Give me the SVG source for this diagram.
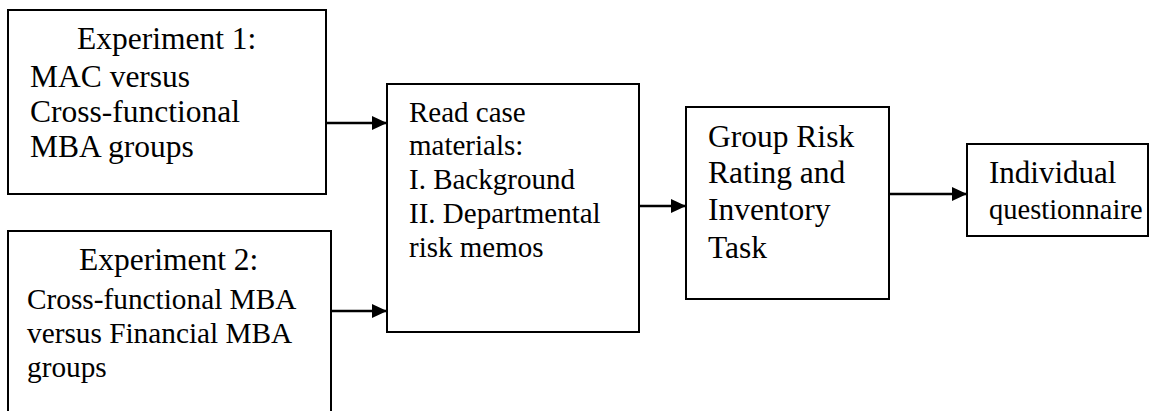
<svg xmlns="http://www.w3.org/2000/svg" width="1160" height="411" viewBox="0 0 1160 411">
<style>
.box{fill:#fff;stroke:#000;stroke-width:2}
.t{fill:#000}
.c{stroke:#000;stroke-width:2.5;fill:none}
</style>
<defs>
<marker id="ah" markerWidth="15" markerHeight="14" refX="15" refY="7" orient="auto" markerUnits="userSpaceOnUse">
<path d="M0,0 L15,7 L0,14 Z" fill="#000"/>
</marker>
</defs>
<rect width="1160" height="411" fill="#fff"/>
<g font-family="'Liberation Serif', 'Times New Roman', 'DejaVu Serif', serif">
<g id="exp1">
<rect class="box" x="8" y="10" width="318" height="184"/>
<text class="t" font-size="31.5"><tspan x="77" y="49">Experiment 1:</tspan><tspan x="30" y="87">MAC versus</tspan><tspan x="30" y="122">Cross-functional</tspan><tspan x="30" y="157">MBA groups</tspan></text>
</g>
<g id="exp2">
<rect class="box" x="8" y="231" width="323" height="190"/>
<text class="t" font-size="31.5"><tspan x="79" y="270">Experiment 2:</tspan></text>
<text class="t" font-size="29.3"><tspan x="27" y="309">Cross-functional MBA</tspan><tspan x="27" y="343">versus Financial MBA</tspan><tspan x="27" y="377">groups</tspan></text>
</g>
<g id="read">
<rect class="box" x="387" y="84" width="252" height="248"/>
<text class="t" font-size="29"><tspan x="409" y="122">Read case</tspan><tspan x="409" y="155">materials:</tspan><tspan x="409" y="189">I. Background</tspan><tspan x="409" y="223">II. Departmental</tspan><tspan x="409" y="257">risk memos</tspan></text>
</g>
<g id="group">
<rect class="box" x="686" y="107" width="203" height="192"/>
<text class="t" font-size="31.5"><tspan x="708" y="147">Group Risk</tspan><tspan x="708" y="183">Rating and</tspan><tspan x="708" y="220">Inventory</tspan><tspan x="708" y="258">Task</tspan></text>
</g>
<g id="indiv">
<rect class="box" x="967" y="144" width="181" height="92"/>
<text class="t"><tspan x="989" y="183" font-size="31">Individual</tspan><tspan x="989" y="219" font-size="28.5">questionnaire</tspan></text>
</g>
</g>
<g id="connectors">
<line class="c" x1="326" y1="123" x2="387" y2="123" marker-end="url(#ah)"/>
<line class="c" x1="331" y1="311" x2="387" y2="311" marker-end="url(#ah)"/>
<line class="c" x1="639" y1="206" x2="686" y2="206" marker-end="url(#ah)"/>
<line class="c" x1="889" y1="194" x2="967" y2="194" marker-end="url(#ah)"/>
</g>
</svg>
